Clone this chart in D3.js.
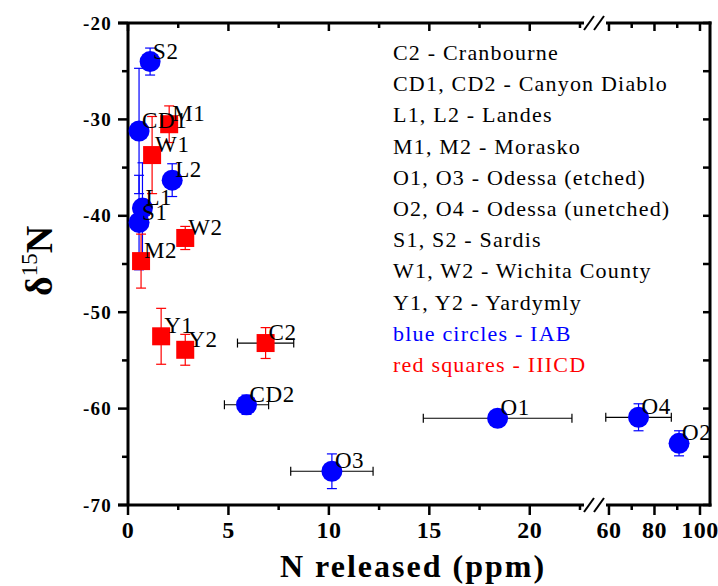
<!doctype html>
<html>
<head>
<meta charset="utf-8"/>
<title>delta 15N vs N released</title>
<script src="https://d3js.org/d3.v7.min.js"></script>
<style>
  body { margin: 0; background: #fff; }
  text { font-family: "Liberation Serif", "Times New Roman", serif; }
</style>
</head>
<body>
<div id="chart"></div>
<script>
// ---- data ----
var names  = ["S2", "CD1", "M1", "W1", "L2", "L1", "S1", "W2", "M2", "Y1", "Y2", "C2", "CD2", "O3", "O1", "O4", "O2"];
var groups = ["IAB","IAB","IIICD","IIICD","IAB","IAB","IAB","IIICD","IIICD","IIICD","IIICD","IIICD","IAB","IAB","IAB","IAB","IAB"];
var nRel   = [1.1, 0.55, 2.05, 1.2, 2.2, 0.72, 0.55, 2.85, 0.65, 1.65, 2.85, 6.85, 5.9, 10.15, 18.4, 73, 90.8];
var d15N   = [-24.0, -31.2, -30.5, -33.7, -36.3, -39.2, -40.7, -42.3, -44.7, -52.5, -53.9, -53.2, -59.6, -66.5, -61.0, -60.9, -63.6];
var yErr   = [1.4, 6.5, 1.9, 4.0, 1.7, 4.7, 4.9, 1.2, 2.8, 2.9, 1.6, 1.6, 1.0, 1.8, 0.5, 1.4, 1.3];
var xErr   = [0, 0, 0, 0, 0, 0, 0, 0, 0, 0, 0, 1.4, 1.1, 2.05, 3.7, 14.4, 0];

var legendLines = ["C2  - Cranbourne", "CD1, CD2 - Canyon Diablo", "L1, L2 - Landes", "M1, M2 - Morasko",
                   "O1, O3 -  Odessa (etched)", "O2, O4 - Odessa (unetched)", "S1, S2  - Sardis",
                   "W1, W2 - Wichita County", "Y1, Y2 - Yardymly", "blue circles -  IAB", "red squares - IIICD"];
var legendColors = ["black","black","black","black","black","black","black","black","black","blue","red"];

var yTicks = [-20, -30, -40, -50, -60, -70];
var yMinor = [-25, -35, -45, -55, -65];
var x1Ticks = [0, 5, 10, 15, 20];
var x1Minor = [2.5, 7.5, 12.5, 17.5, 22.5];
var x2Ticks = [60, 80, 100];
var x2Minor = [70, 90];

var colors = { IAB: "#0000ff", IIICD: "#ff0000" };

// ---- layout ----
var W = 718, H = 586;
var pLeft = 128, pRight = 710, pTop = 23, pBottom = 505;

var svg = d3.select("#chart").append("svg")
  .attr("width", W).attr("height", H);

var y = d3.scaleLinear().domain([-70, -20]).range([pBottom, pTop]);
var x1 = d3.scaleLinear().domain([0, 22.7]).range([pLeft, 584]);
var x2 = d3.scaleLinear().domain([58.7, 104.4]).range([606, pRight]);
function xp(v) { return v < 40 ? x1(v) : x2(v); }

var g = svg.append("g");

// axis lines (with the break)
function line(xa, ya, xb, yb, w, c) {
  g.append("line").attr("x1", xa).attr("y1", ya).attr("x2", xb).attr("y2", yb)
    .attr("stroke", c || "black").attr("stroke-width", w);
}
line(pLeft, pTop, pLeft, pBottom + 1, 3);
line(pRight, pTop - 1.5, pRight, pBottom + 1.5, 3);
line(pLeft - 10, pBottom, x1.range()[1], pBottom, 3);
line(x2.range()[0], pBottom, pRight + 1.5, pBottom, 3);
line(pLeft - 10, pTop, x1.range()[1], pTop, 3);
line(x2.range()[0], pTop, pRight + 1.5, pTop, 3);

// break marks
[pBottom, pTop].forEach(function (yy) {
  [589, 599].forEach(function (c) {
    line(c - 5, yy + 7, c + 5, yy - 7, 2);
  });
});

// left / right ticks
yTicks.forEach(function (v) { line(pLeft - 10, y(v), pLeft, y(v), 2.5); line(pRight - 7, y(v), pRight, y(v), 2.5); });
yMinor.forEach(function (v) { line(pLeft - 6, y(v), pLeft, y(v), 2.5); line(pRight - 7, y(v), pRight, y(v), 2.5); });

// bottom / top ticks
x1Ticks.forEach(function (v) { line(x1(v), pBottom, x1(v), pBottom + 10, 2.5); line(x1(v), pTop, x1(v), pTop + 8, 2.5); });
x1Minor.forEach(function (v) { line(x1(v), pBottom, x1(v), pBottom + 5, 2.5); line(x1(v), pTop, x1(v), pTop + 5, 2.5); });
x2Ticks.forEach(function (v) { line(x2(v), pBottom, x2(v), pBottom + 10, 2.5); line(x2(v), pTop, x2(v), pTop + 8, 2.5); });
x2Minor.forEach(function (v) { line(x2(v), pBottom, x2(v), pBottom + 5, 2.5); line(x2(v), pTop, x2(v), pTop + 5, 2.5); });

// tick labels
g.selectAll(".ylab").data(yTicks).enter().append("text")
  .attr("x", 112).attr("y", function (d) { return y(d) + 6.5; })
  .attr("text-anchor", "end").attr("font-size", 19).attr("font-weight", "bold")
  .attr("letter-spacing", 1.2)
  .text(function (d) { return "-" + Math.abs(d); });

var xLabs = x1Ticks.map(function (v) { return { v: v, px: x1(v) }; })
  .concat(x2Ticks.map(function (v) { return { v: v, px: x2(v) }; }));
g.selectAll(".xlab").data(xLabs).enter().append("text")
  .attr("x", function (d) { return d.px; }).attr("y", 538)
  .attr("text-anchor", "middle").attr("font-size", 24).attr("font-weight", "bold")
  .attr("letter-spacing", 0.5)
  .text(function (d) { return d.v; });

// axis titles
g.append("text").attr("x", 280).attr("y", 577)
  .attr("font-size", 32).attr("font-weight", "bold").attr("letter-spacing", 2)
  .text("N released (ppm)");

var yt = g.append("text").attr("transform", "translate(52,261) rotate(-90)")
  .attr("text-anchor", "middle").attr("font-size", 38).attr("font-weight", "bold");
yt.append("tspan").text("δ");
yt.append("tspan").attr("dy", -15).attr("font-size", 23).attr("font-weight", "normal").text("15");
yt.append("tspan").attr("dy", 15).text("N");

// data
var pts = names.map(function (n, i) {
  return { name: n, group: groups[i], x: nRel[i], y: d15N[i], ye: yErr[i], xe: xErr[i] };
});

var eb = g.append("g");
pts.forEach(function (p) {
  var px = xp(p.x), py = y(p.y), c = colors[p.group];
  if (p.ye > 0) {
    var a = y(p.y + p.ye), b = y(p.y - p.ye);
    eb.append("line").attr("x1", px).attr("x2", px).attr("y1", a).attr("y2", b).attr("stroke", c).attr("stroke-width", 1.2);
    eb.append("line").attr("x1", px - 5).attr("x2", px + 5).attr("y1", a).attr("y2", a).attr("stroke", c).attr("stroke-width", 1.2);
    eb.append("line").attr("x1", px - 5).attr("x2", px + 5).attr("y1", b).attr("y2", b).attr("stroke", c).attr("stroke-width", 1.2);
  }
  if (p.xe > 0) {
    var l = xp(p.x - p.xe), r = xp(p.x + p.xe);
    eb.append("line").attr("x1", l).attr("x2", r).attr("y1", py).attr("y2", py).attr("stroke", "black").attr("stroke-width", 1.2);
    eb.append("line").attr("x1", l).attr("x2", l).attr("y1", py - 4.5).attr("y2", py + 4.5).attr("stroke", "black").attr("stroke-width", 1.2);
    eb.append("line").attr("x1", r).attr("x2", r).attr("y1", py - 4.5).attr("y2", py + 4.5).attr("stroke", "black").attr("stroke-width", 1.2);
  }
});

var mk = g.append("g");
mk.selectAll("circle").data(pts.filter(function (p) { return p.group === "IAB"; }))
  .enter().append("circle")
  .attr("cx", function (p) { return xp(p.x); }).attr("cy", function (p) { return y(p.y); })
  .attr("r", 10.5).attr("fill", colors.IAB);
mk.selectAll("rect").data(pts.filter(function (p) { return p.group === "IIICD"; }))
  .enter().append("rect")
  .attr("x", function (p) { return xp(p.x) - 9; }).attr("y", function (p) { return y(p.y) - 9; })
  .attr("width", 18).attr("height", 18).attr("fill", colors.IIICD);

g.selectAll(".plab").data(pts).enter().append("text")
  .attr("x", function (p) { return xp(p.x) + 3; }).attr("y", function (p) { return y(p.y) - 3; })
  .attr("font-size", 23).attr("letter-spacing", 0.6)
  .text(function (p) { return p.name; });

// legend text
g.selectAll(".leg").data(legendLines).enter().append("text")
  .attr("x", 393).attr("y", function (d, i) { return 60 + i * 31.2; })
  .attr("font-size", 22).attr("letter-spacing", 1.2)
  .attr("fill", function (d, i) { return legendColors[i]; })
  .text(function (d) { return d; });
</script>
</body>
</html>
